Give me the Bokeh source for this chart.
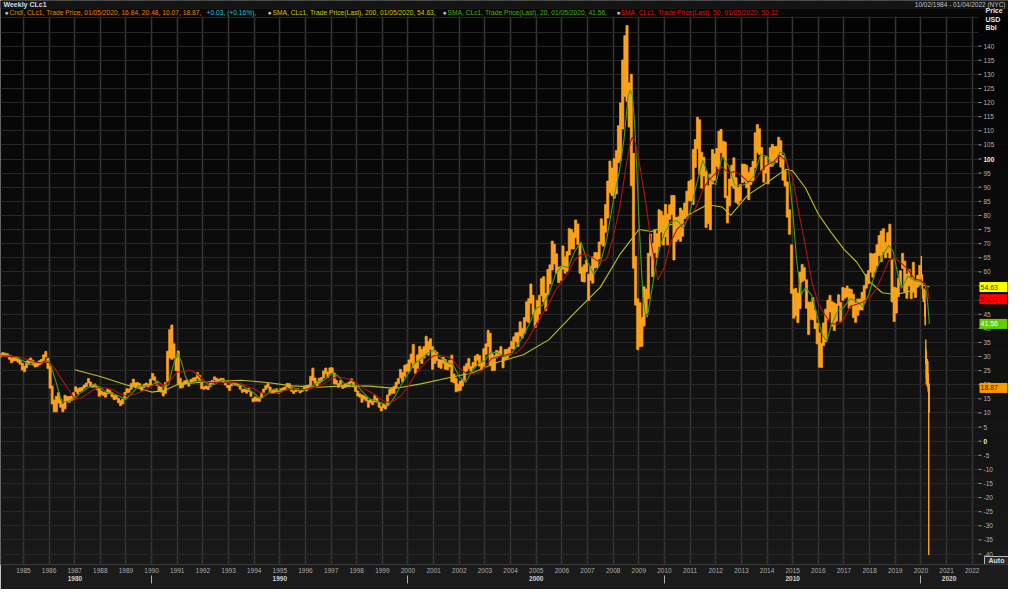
import numpy as np
import pandas as pd
from bokeh.plotting import figure
from bokeh.models import Range1d, FixedTicker, DatetimeTickFormatter, DatetimeAxis, BoxAnnotation, Grid
from bokeh.core.properties import value
from bokeh.embed import file_html
from bokeh.resources import INLINE

# ---------------- DATA ----------------
first_month = "1984-02-01"
# monthly low of the weekly candles, Feb 1984 .. Dec 2019
month_low = [
    29.8, 30.2, 30.0, 29.9, 29.0, 27.8, 28.4, 28.6, 28.0, 27.3, 25.2,          # 1984
    24.6, 26.0, 27.3, 28.0, 27.0, 26.3, 26.5, 27.0, 27.4, 28.6, 29.8, 25.8,    # 1985
    18.8, 13.2, 10.4, 10.4, 13.5, 12.0, 10.4, 11.5, 14.0, 13.8, 14.4, 14.9,    # 1986
    17.6, 16.8, 17.6, 18.0, 18.8, 19.3, 20.6, 19.2, 19.1, 19.3, 18.2, 15.9,    # 1987
    16.5, 16.2, 15.6, 16.8, 17.0, 15.7, 14.7, 14.9, 13.6, 12.6, 13.2, 15.0,    # 1988
    17.2, 17.3, 18.4, 19.6, 19.2, 19.3, 18.9, 17.9, 19.0, 19.6, 19.2, 19.9,    # 1989
    21.8, 21.4, 19.8, 17.6, 17.4, 16.0, 16.9, 21.2, 29.5, 29.0, 29.5, 25.0,    # 1990
    20.0, 18.8, 19.0, 20.2, 20.6, 19.5, 20.7, 21.0, 21.3, 22.3, 21.3, 18.6,    # 1991
    18.4, 18.6, 18.3, 19.3, 20.4, 21.8, 21.3, 21.0, 21.4, 20.9, 19.9, 19.0,    # 1992
    18.0, 19.6, 19.9, 19.8, 19.5, 18.4, 17.3, 17.6, 17.0, 17.6, 15.9, 14.0,    # 1993
    14.2, 14.2, 14.1, 15.3, 17.3, 18.3, 19.0, 17.4, 16.9, 17.2, 17.5, 16.9,    # 1994
    17.4, 18.0, 18.0, 19.2, 18.9, 17.7, 16.9, 17.5, 17.9, 17.1, 17.6, 18.4,    # 1995
    17.8, 18.5, 19.6, 21.5, 20.5, 19.5, 20.6, 21.2, 22.4, 23.9, 22.6, 24.0,    # 1996
    24.3, 20.3, 20.2, 19.1, 20.1, 18.7, 19.0, 19.3, 19.3, 20.6, 19.3, 17.6,    # 1997
    16.0, 15.6, 13.8, 14.9, 14.3, 12.0, 13.6, 12.9, 14.0, 13.8, 12.0, 10.7,    # 1998
    11.8, 11.4, 12.5, 16.3, 16.9, 17.0, 19.0, 20.4, 22.4, 21.0, 23.0, 24.8,    # 1999
    24.6, 27.8, 26.0, 24.0, 25.8, 28.5, 27.5, 29.5, 31.0, 30.5, 32.5, 25.5,    # 2000
    27.6, 28.6, 26.2, 25.8, 27.6, 25.5, 25.3, 26.3, 21.0, 20.7, 17.5, 17.8,    # 2001
    18.0, 19.5, 21.6, 24.8, 25.7, 24.8, 25.9, 26.6, 28.7, 26.6, 25.2, 26.5,    # 2002
    30.8, 33.6, 26.9, 25.0, 25.1, 29.5, 29.9, 30.3, 26.0, 28.8, 29.3, 30.6,    # 2003
    32.8, 32.6, 35.3, 33.6, 37.3, 36.5, 38.2, 42.5, 42.0, 48.9, 45.0, 40.3,    # 2004
    42.1, 45.0, 51.5, 49.3, 46.2, 51.9, 55.7, 60.7, 62.8, 59.6, 56.2, 57.0,    # 2005
    61.0, 59.5, 60.2, 66.0, 68.1, 68.1, 72.1, 69.7, 59.5, 56.6, 56.4, 60.0,    # 2006
    49.9, 57.0, 56.0, 61.4, 61.5, 64.6, 69.8, 69.1, 74.0, 79.1, 88.0, 87.1,    # 2007
    86.1, 87.6, 98.7, 99.5, 110.6, 122.2, 120.4, 111.3, 90.5, 61.3, 48.2, 32.4,  # 2008
    33.5, 33.6, 40.8, 45.2, 50.5, 65.6, 58.3, 66.8, 65.1, 68.9, 74.1, 69.5,    # 2009
    72.4, 69.5, 78.6, 80.3, 64.2, 70.8, 71.6, 70.8, 72.6, 78.9, 80.0, 85.2,    # 2010
    85.1, 83.9, 97.0, 103.6, 94.6, 89.6, 94.0, 75.7, 77.1, 74.9, 91.1, 92.5,   # 2011
    97.3, 96.4, 102.2, 100.7, 86.3, 77.3, 83.4, 90.4, 89.6, 84.6, 84.0, 85.2,  # 2012
    91.6, 92.0, 89.8, 85.6, 91.0, 92.3, 96.9, 102.2, 101.6, 96.0, 91.8, 95.0,  # 2013
    91.2, 97.4, 97.4, 99.2, 98.8, 101.7, 97.1, 92.5, 90.4, 79.4, 73.3, 52.4,   # 2014
    43.6, 44.4, 42.0, 47.0, 56.5, 57.0, 47.1, 37.8, 43.2, 43.0, 39.9, 34.5,    # 2015
    26.2, 26.1, 33.9, 35.2, 43.0, 45.8, 40.8, 39.2, 42.5, 48.1, 42.2, 49.9,    # 2016
    50.7, 51.2, 47.1, 48.2, 43.8, 42.1, 44.6, 46.5, 46.5, 49.1, 54.2, 55.8,    # 2017
    59.9, 58.1, 59.9, 62.1, 65.8, 63.6, 67.0, 65.0, 66.8, 64.9, 49.4, 42.4,    # 2018
    45.4, 51.2, 55.3, 61.2, 53.0, 50.6, 55.0, 50.5, 52.8, 50.9, 54.6, 55.6,    # 2019
]
# monthly high of the weekly candles, Feb 1984 .. Dec 2019
month_high = [
    31.0, 31.4, 31.2, 31.0, 30.4, 29.5, 30.0, 30.0, 29.6, 28.8, 27.6,          # 1984
    26.6, 28.4, 29.0, 29.5, 28.7, 27.9, 28.0, 28.5, 29.0, 30.6, 31.8, 29.4,    # 1985
    26.6, 19.6, 14.6, 15.9, 17.2, 14.8, 13.2, 16.3, 15.8, 15.8, 16.0, 17.2,    # 1986
    19.3, 18.6, 18.9, 19.1, 19.9, 20.6, 22.2, 21.0, 19.9, 20.3, 19.3, 18.8,    # 1987
    17.8, 17.3, 17.3, 18.6, 18.0, 17.2, 16.2, 16.2, 15.2, 14.4, 14.9, 17.3,    # 1988
    18.6, 18.5, 20.4, 22.0, 20.7, 20.8, 20.4, 19.2, 20.2, 20.6, 20.3, 22.0,    # 1989
    24.0, 22.8, 21.2, 19.5, 19.2, 17.8, 20.8, 31.9, 39.5, 41.2, 34.5, 29.5,    # 1990
    32.0, 22.3, 20.7, 21.4, 21.7, 20.9, 21.9, 22.4, 22.6, 24.3, 23.4, 20.8,    # 1991
    19.3, 19.6, 19.4, 20.9, 21.6, 22.8, 22.3, 21.9, 22.3, 22.2, 20.8, 19.8,    # 1992
    19.8, 20.6, 20.7, 20.6, 20.3, 19.8, 18.4, 18.5, 18.1, 18.7, 17.6, 15.2,    # 1993
    15.7, 15.3, 15.2, 17.3, 18.5, 19.7, 20.4, 19.2, 18.0, 18.2, 18.6, 17.6,    # 1994
    18.6, 18.9, 19.2, 20.5, 20.4, 19.2, 17.8, 18.4, 18.6, 17.8, 18.4, 19.6,    # 1995
    19.8, 19.9, 23.0, 25.9, 22.4, 21.1, 22.3, 22.6, 24.9, 25.9, 24.5, 26.0,    # 1996
    26.0, 24.2, 21.6, 20.4, 21.5, 19.8, 20.2, 20.5, 21.0, 22.1, 20.9, 19.2,    # 1997
    17.8, 16.8, 16.4, 16.1, 15.6, 14.5, 14.7, 14.2, 16.4, 15.2, 13.7, 12.2,    # 1998
    13.2, 12.7, 16.4, 18.3, 18.9, 19.4, 20.9, 22.2, 25.5, 24.3, 26.9, 27.3,    # 1999
    28.8, 30.9, 34.3, 27.5, 30.6, 33.6, 32.5, 33.5, 37.2, 35.3, 36.3, 33.5,    # 2000
    32.2, 31.6, 28.9, 28.8, 29.8, 29.0, 27.7, 28.6, 30.5, 23.8, 22.3, 20.3,    # 2001
    21.3, 21.8, 26.6, 27.5, 29.3, 26.4, 27.9, 30.2, 30.8, 30.3, 27.9, 32.8,    # 2002
    34.5, 39.3, 38.3, 31.0, 30.3, 32.2, 31.9, 33.5, 29.7, 32.5, 32.6, 33.3,    # 2003
    35.4, 37.0, 38.4, 38.5, 42.3, 40.0, 43.8, 49.4, 50.5, 55.7, 51.7, 46.4,    # 2004
    49.9, 51.7, 57.6, 58.3, 52.4, 60.9, 62.5, 70.9, 69.8, 66.4, 61.7, 61.9,    # 2005
    69.2, 65.3, 67.2, 75.4, 75.0, 73.9, 78.4, 77.0, 70.0, 61.7, 62.5, 64.2,    # 2006
    59.2, 62.0, 65.3, 66.9, 66.8, 70.6, 78.8, 76.3, 83.9, 92.2, 99.3, 96.8,    # 2007
    100.1, 103.0, 111.8, 119.9, 135.1, 143.7, 147.3, 127.0, 130.0, 102.0, 65.5, 50.5,  # 2008
    49.1, 43.9, 54.7, 53.9, 66.6, 73.4, 70.1, 75.0, 73.5, 82.0, 81.5, 80.0,    # 2009
    83.9, 80.5, 83.8, 87.1, 87.1, 79.3, 79.5, 82.6, 81.8, 84.4, 88.6, 92.1,    # 2010
    92.6, 103.4, 106.9, 114.8, 113.9, 102.4, 100.6, 95.7, 90.5, 94.6, 103.4, 101.8,  # 2011
    103.7, 109.8, 110.5, 106.3, 106.0, 86.9, 92.9, 97.8, 100.4, 93.4, 90.0, 91.0,    # 2012
    98.2, 98.2, 97.8, 95.3, 97.0, 99.2, 109.3, 112.2, 110.7, 104.1, 95.9, 100.8,     # 2013
    98.3, 104.0, 105.2, 104.4, 104.5, 107.7, 106.5, 101.2, 95.9, 91.9, 82.0, 69.6,   # 2014
    53.9, 54.2, 52.5, 59.9, 62.6, 61.5, 57.2, 49.3, 49.3, 50.9, 46.3, 41.8,    # 2015
    38.4, 34.7, 41.9, 46.8, 50.0, 51.7, 49.4, 49.0, 48.6, 51.9, 49.2, 54.5,    # 2016
    54.1, 55.0, 54.0, 53.8, 52.0, 49.0, 50.4, 50.4, 52.8, 55.2, 59.1, 60.5,    # 2017
    66.6, 66.3, 66.6, 69.6, 72.9, 74.5, 75.3, 70.5, 73.9, 76.9, 64.5, 54.6,    # 2018
    54.3, 57.8, 60.4, 66.6, 63.8, 59.2, 60.9, 58.0, 63.4, 56.9, 58.8, 62.3,    # 2019
]

# weekly candles, 2020
week_start = ["2020-01-06", "2020-01-13", "2020-01-20", "2020-01-27", "2020-02-03", "2020-02-10",
              "2020-02-17", "2020-02-24", "2020-03-02", "2020-03-09", "2020-03-16", "2020-03-23",
              "2020-03-30", "2020-04-06", "2020-04-13", "2020-04-20", "2020-04-27"]
week_open = [63.3, 59.0, 58.5, 53.9, 51.5, 50.3, 52.1, 53.4, 44.8, 32.9, 31.7, 22.4, 21.5, 28.3, 22.8, 18.3, 16.84]
week_high = [65.65, 59.3, 58.9, 54.3, 52.0, 52.2, 54.0, 53.5, 48.7, 36.0, 32.0, 25.2, 29.1, 28.4, 23.9, 18.3, 20.48]
week_low = [58.7, 57.6, 53.9, 50.6, 49.3, 49.4, 51.5, 44.0, 41.0, 27.3, 20.1, 20.5, 19.3, 22.6, 17.3, -40.32, 10.07]
week_close = [59.04, 58.54, 54.19, 51.56, 50.32, 52.05, 53.38, 44.76, 41.28, 31.73, 22.43, 21.51, 28.34, 22.76, 18.27, 16.94, 18.87]

# simple moving averages (date, value)
sma20_points = [
    ("1984-02-10", 30.2), ("1984-04-01", 30.4), ("1984-07-01", 30.4), ("1984-10-01", 29.5),
    ("1985-01-01", 28.4), ("1985-04-01", 27.1), ("1985-07-01", 27.9), ("1985-10-01", 27.7),
    ("1986-01-01", 28.7), ("1986-04-01", 21.8), ("1986-07-01", 13.9), ("1986-10-01", 14.1),
    ("1987-01-01", 15.2), ("1987-04-01", 17.2), ("1987-07-01", 18.8), ("1987-10-01", 20.1),
    ("1988-01-01", 19.1), ("1988-04-01", 17.2), ("1988-07-01", 16.9), ("1988-10-01", 15.9),
    ("1989-01-01", 14.8), ("1989-04-01", 17.1), ("1989-07-01", 19.7), ("1989-10-01", 19.5),
    ("1990-01-01", 19.8), ("1990-04-01", 21.3), ("1990-07-01", 19.2), ("1990-09-01", 19.9),
    ("1990-11-01", 26.5), ("1991-01-01", 31.3), ("1991-03-01", 28.2), ("1991-05-01", 22.7),
    ("1991-07-01", 20.5), ("1991-10-01", 21.3), ("1992-01-01", 21.8), ("1992-04-01", 19.7),
    ("1992-07-01", 20.3), ("1992-10-01", 21.7), ("1993-01-01", 20.9), ("1993-04-01", 19.8),
    ("1993-07-01", 19.9), ("1993-10-01", 18.5), ("1994-01-01", 17.0), ("1994-04-01", 15.1),
    ("1994-07-01", 16.6), ("1994-10-01", 18.5), ("1995-01-01", 17.8), ("1995-04-01", 18.1),
    ("1995-07-01", 19.0), ("1995-10-01", 18.3), ("1996-01-01", 18.1), ("1996-04-01", 19.3),
    ("1996-07-01", 21.1), ("1996-10-01", 21.7), ("1997-01-01", 23.9), ("1997-04-01", 23.4),
    ("1997-07-01", 20.6), ("1997-10-01", 19.9), ("1998-01-01", 19.9), ("1998-04-01", 17.3),
    ("1998-07-01", 15.0), ("1998-10-01", 14.3), ("1999-01-01", 13.4), ("1999-04-01", 12.7),
    ("1999-07-01", 15.9), ("1999-10-01", 20.2), ("2000-01-01", 23.8), ("2000-04-01", 27.5),
    ("2000-07-01", 29.1), ("2000-10-01", 31.1), ("2001-01-01", 32.2), ("2001-04-01", 29.9),
    ("2001-07-01", 28.1), ("2001-10-01", 27.2), ("2002-01-01", 22.9), ("2002-04-01", 20.8),
    ("2002-07-01", 24.8), ("2002-10-01", 27.5), ("2003-01-01", 28.5), ("2003-04-01", 31.6),
    ("2003-07-01", 31.3), ("2003-10-01", 29.9), ("2004-01-01", 30.7), ("2004-04-01", 33.8),
    ("2004-07-01", 37.3), ("2004-10-01", 42.0), ("2005-01-01", 47.1), ("2005-04-01", 48.2),
    ("2005-07-01", 52.3), ("2005-10-01", 59.1), ("2006-01-01", 62.1), ("2006-04-01", 61.5),
    ("2006-07-01", 67.2), ("2006-10-01", 70.6), ("2007-01-01", 63.4), ("2007-04-01", 59.1),
    ("2007-07-01", 62.9), ("2007-10-01", 71.5), ("2008-01-01", 84.9), ("2008-04-01", 96.0),
    ("2008-06-01", 106.4), ("2008-08-01", 122.2), ("2008-09-01", 124.4), ("2008-10-01", 122.7),
    ("2008-11-01", 112.9), ("2008-12-01", 97.6), ("2009-01-01", 79.2), ("2009-02-01", 64.2),
    ("2009-03-01", 51.2), ("2009-04-01", 45.4), ("2009-05-01", 43.9), ("2009-07-01", 53.0),
    ("2009-10-01", 66.7), ("2010-01-01", 73.7), ("2010-04-01", 77.7), ("2010-07-01", 78.2),
    ("2010-10-01", 75.4), ("2011-01-01", 81.4), ("2011-04-01", 90.8), ("2011-07-01", 99.6),
    ("2011-10-01", 93.3), ("2012-01-01", 90.8), ("2012-04-01", 100.9), ("2012-07-01", 97.7),
    ("2012-10-01", 90.7), ("2013-01-01", 90.5), ("2013-04-01", 91.5), ("2013-07-01", 94.1),
    ("2013-10-01", 101.6), ("2014-01-01", 101.0), ("2014-04-01", 97.5), ("2014-07-01", 102.3),
    ("2014-09-01", 102.0), ("2014-11-01", 96.7), ("2015-01-01", 81.8), ("2015-03-01", 63.5),
    ("2015-05-01", 51.9), ("2015-07-01", 54.4), ("2015-10-01", 51.7), ("2016-01-01", 42.8),
    ("2016-03-01", 37.6), ("2016-05-01", 35.5), ("2016-07-01", 40.8), ("2016-10-01", 46.0),
    ("2017-01-01", 47.5), ("2017-04-01", 50.6), ("2017-07-01", 49.5), ("2017-10-01", 47.6),
    ("2018-01-01", 52.8), ("2018-04-01", 60.6), ("2018-07-01", 65.8), ("2018-10-01", 69.4),
    ("2018-12-01", 67.4), ("2019-02-01", 59.8), ("2019-04-01", 54.2), ("2019-07-01", 58.5),
    ("2019-10-01", 56.9), ("2020-01-01", 56.5), ("2020-03-01", 55.8), ("2020-04-01", 50.8),
    ("2020-05-01", 41.56),
]
sma50_points = [
    ("1984-02-10", 30.3), ("1984-04-01", 30.1), ("1984-07-01", 30.0), ("1984-10-01", 29.9),
    ("1985-01-01", 29.4), ("1985-04-01", 28.6), ("1985-07-01", 28.0), ("1985-10-01", 27.7),
    ("1986-01-01", 28.0), ("1986-04-01", 25.5), ("1986-07-01", 21.9), ("1986-10-01", 18.5),
    ("1987-01-01", 15.0), ("1987-04-01", 15.3), ("1987-07-01", 16.7), ("1987-10-01", 18.3),
    ("1988-01-01", 19.2), ("1988-04-01", 18.8), ("1988-07-01", 18.2), ("1988-10-01", 16.9),
    ("1989-01-01", 16.0), ("1989-04-01", 16.4), ("1989-07-01", 17.2), ("1989-10-01", 18.2),
    ("1990-01-01", 19.6), ("1990-04-01", 20.4), ("1990-07-01", 19.8), ("1990-10-01", 21.6),
    ("1991-01-01", 24.5), ("1991-04-01", 24.5), ("1991-07-01", 25.2), ("1991-10-01", 24.0),
    ("1992-01-01", 21.5), ("1992-04-01", 20.8), ("1992-07-01", 20.9), ("1992-10-01", 20.9),
    ("1993-01-01", 20.6), ("1993-04-01", 20.8), ("1993-07-01", 20.4), ("1993-10-01", 19.5),
    ("1994-01-01", 18.5), ("1994-04-01", 17.2), ("1994-07-01", 16.7), ("1994-10-01", 16.9),
    ("1995-01-01", 17.2), ("1995-04-01", 18.1), ("1995-07-01", 18.5), ("1995-10-01", 18.3),
    ("1996-01-01", 18.4), ("1996-04-01", 18.8), ("1996-07-01", 19.4), ("1996-10-01", 20.5),
    ("1997-01-01", 22.1), ("1997-04-01", 22.9), ("1997-07-01", 22.4), ("1997-10-01", 21.8),
    ("1998-01-01", 20.6), ("1998-04-01", 18.9), ("1998-07-01", 17.6), ("1998-10-01", 16.2),
    ("1999-01-01", 14.4), ("1999-04-01", 13.7), ("1999-07-01", 14.5), ("1999-10-01", 16.3),
    ("2000-01-01", 19.3), ("2000-04-01", 23.2), ("2000-07-01", 26.0), ("2000-10-01", 28.5),
    ("2001-01-01", 30.3), ("2001-04-01", 30.3), ("2001-07-01", 30.1), ("2001-10-01", 28.8),
    ("2002-01-01", 25.9), ("2002-04-01", 24.1), ("2002-07-01", 23.7), ("2002-10-01", 24.1),
    ("2003-01-01", 26.1), ("2003-04-01", 29.2), ("2003-07-01", 29.9), ("2003-10-01", 30.4),
    ("2004-01-01", 31.1), ("2004-04-01", 31.4), ("2004-07-01", 33.7), ("2004-10-01", 37.2),
    ("2005-01-01", 41.4), ("2005-04-01", 45.1), ("2005-07-01", 48.7), ("2005-10-01", 53.5),
    ("2006-01-01", 56.5), ("2006-04-01", 59.9), ("2006-07-01", 64.2), ("2006-10-01", 66.1),
    ("2007-01-01", 66.1), ("2007-04-01", 64.7), ("2007-07-01", 63.4), ("2007-10-01", 64.6),
    ("2008-01-01", 72.3), ("2008-04-01", 82.3), ("2008-07-01", 97.0), ("2008-09-01", 105.7),
    ("2008-10-01", 107.7), ("2008-11-01", 106.9), ("2009-01-01", 99.6), ("2009-04-01", 85.8),
    ("2009-07-01", 69.7), ("2009-10-01", 57.2), ("2010-01-01", 61.7), ("2010-04-01", 70.6),
    ("2010-07-01", 75.2), ("2010-10-01", 77.1), ("2011-01-01", 79.4), ("2011-04-01", 83.1),
    ("2011-07-01", 89.2), ("2011-10-01", 92.7), ("2012-01-01", 94.9), ("2012-04-01", 97.2),
    ("2012-07-01", 95.0), ("2012-10-01", 95.6), ("2013-01-01", 94.1), ("2013-04-01", 92.0),
    ("2013-07-01", 92.1), ("2013-10-01", 95.6), ("2014-01-01", 97.9), ("2014-04-01", 99.0),
    ("2014-07-01", 101.3), ("2014-10-01", 99.3), ("2015-01-01", 93.3), ("2015-04-01", 80.7),
    ("2015-07-01", 69.3), ("2015-10-01", 56.5), ("2016-01-01", 48.7), ("2016-04-01", 44.9),
    ("2016-07-01", 41.7), ("2016-10-01", 41.4), ("2017-01-01", 43.2), ("2017-04-01", 47.8),
    ("2017-07-01", 48.5), ("2017-10-01", 49.3), ("2018-01-01", 50.9), ("2018-04-01", 53.7),
    ("2018-07-01", 58.6), ("2018-10-01", 64.0), ("2019-01-01", 65.0), ("2019-04-01", 63.0),
    ("2019-07-01", 60.9), ("2019-10-01", 57.5), ("2020-01-01", 57.0), ("2020-04-01", 54.7),
    ("2020-05-01", 50.32),
]
sma200_points = [
    ("1987-01-02", 25.3), ("1988-01-01", 22.9), ("1989-01-01", 20.0), ("1990-01-01", 17.4),
    ("1990-07-01", 18.0), ("1991-01-01", 20.0), ("1992-01-01", 21.0), ("1993-07-01", 21.6),
    ("1994-07-01", 20.8), ("1995-07-01", 19.6), ("1996-07-01", 19.1), ("1997-07-01", 19.6),
    ("1998-07-01", 19.5), ("1999-07-01", 18.7), ("2000-07-01", 20.3), ("2001-07-01", 22.3),
    ("2002-07-01", 24.2), ("2003-07-01", 28.0), ("2004-07-01", 30.6), ("2005-07-01", 36.0),
    ("2006-07-01", 45.5), ("2007-07-01", 54.5), ("2008-04-01", 66.0), ("2009-01-01", 75.0),
    ("2009-07-01", 74.3), ("2010-01-01", 76.0), ("2010-07-01", 77.5), ("2011-01-01", 80.5),
    ("2011-09-01", 83.8), ("2012-04-01", 83.0), ("2012-08-01", 80.0), ("2013-04-01", 87.2),
    ("2014-01-01", 91.7), ("2014-10-01", 96.4), ("2015-01-01", 95.8), ("2015-07-01", 89.8),
    ("2016-01-01", 80.5), ("2016-07-01", 74.0), ("2017-01-01", 68.0), ("2017-07-01", 63.5),
    ("2018-01-01", 56.5), ("2018-07-01", 52.6), ("2019-01-01", 52.0), ("2019-07-01", 52.9),
    ("2020-01-01", 55.5), ("2020-05-01", 54.63),
]

last_close = 18.87
last_sma200 = 54.63
last_sma50 = 50.32
last_sma20 = 41.56

year_ticks = list(range(1985, 2023))
price_ticks = list(range(-40, 141, 5))
bold_price_ticks = [0, 100]
grid_ticks = list(range(-40, 151, 5))
decade_names = ["1980", "1990", "2000", "2010", "2020"]
decade_centers = ["1987-01-05", "1995-01-01", "2005-01-01", "2015-01-01", "2021-02-05"]
decade_bounds = ["1990-01-01", "2000-01-01", "2010-01-01", "2020-01-01"]

# ---------------- LAYOUT / STYLE ----------------
FONT = "Liberation Sans"
ORANGE = "#ffa31a"
C200, C20, C50 = "#bdbd22", "#44a014", "#b01212"

W, H = 1008, 589
BOTTOM = 25              # room for the two date axes
HEAD = 16                # header band (inside the frame, above the price area)
DATA_W = 978             # width of the price area; the rest is the price-label column
FRAME_H = H - BOTTOM


def ms(d):
    return pd.Timestamp(d).value / 1e6


X0, X1 = ms("1984-02-10"), ms("2022-04-01")
Y0, Y1 = -43.7, 150.5
MSPP = (X1 - X0) / DATA_W
UPP = (Y1 - Y0) / (FRAME_H - HEAD)
XE = X0 + W * MSPP
YE = Y1 + HEAD * UPP


def px(n):      # x position n pixels right of the frame's left edge
    return X0 + n * MSPP


def py(n):      # y position n pixels above the top of the price area
    return Y1 + n * UPP


p = figure(width=W, height=H, x_axis_type="datetime", y_axis_location=None,
           x_range=Range1d(X0, XE), y_range=Range1d(Y0, YE),
           output_backend="svg", toolbar_location=None,
           min_border_left=0, min_border_right=0, min_border_top=0, min_border_bottom=BOTTOM,
           background_fill_color="#0a0a0a", border_fill_color="#1b1b1b",
           outline_line_color=None)

# background gradient (dark at top, lighter at bottom)
nb = 30
edges = np.linspace(Y0, Y1, nb + 1)
band_cols = []
for i in range(nb):
    t = (i + 0.5) / nb
    g = int(round(0x19 * (1 - t) + 0x03 * t))
    band_cols.append("#%02x%02x%02x" % (g, g, g))
for i in range(nb):
    p.add_layout(BoxAnnotation(bottom=edges[i], top=edges[i + 1], fill_color=band_cols[i],
                               fill_alpha=1.0, line_color=None, level="image"))

# grids
xt = FixedTicker(ticks=[ms(f"{y}-01-01") for y in year_ticks])
p.xgrid.ticker = xt
p.xgrid.grid_line_color = "#333333"
p.xgrid.grid_line_width = 1.6
p.add_layout(Grid(dimension=1, ticker=FixedTicker(ticks=grid_ticks),
                  grid_line_color="#272727", grid_line_width=1))

# covers: price-label column and header band (drawn over the grid lines)
for i in range(nb):
    p.add_layout(BoxAnnotation(left=X1, bottom=edges[i], top=edges[i + 1], fill_color=band_cols[i],
                               fill_alpha=1.0, line_color=None, level="underlay"))
p.add_layout(BoxAnnotation(bottom=Y1, fill_color="#080808", fill_alpha=1.0, line_color=None,
                           level="underlay"))
p.add_layout(BoxAnnotation(bottom=py(8), fill_color="#141414", fill_alpha=1.0, line_color="#2e2e2e",
                           line_width=1, level="underlay"))

# x axis (years)
xax = p.xaxis[0]
xax.ticker = xt
xax.formatter = DatetimeTickFormatter(years="%Y", months="%Y", days="%Y", hours="%Y",
                                      minutes="%Y", seconds="%Y", milliseconds="%Y")
xax.major_tick_out = 0
xax.major_tick_in = 0
xax.minor_tick_line_color = None
xax.major_label_standoff = 3
xax.major_label_text_font = FONT
xax.major_label_text_font_size = "6.5px"
xax.major_label_text_color = "#acacac"
xax.axis_line_color = "#3a3a3a"

# decade axis: names at decade centres, separators as minor ticks
ax2 = DatetimeAxis(ticker=FixedTicker(ticks=[int(ms(d)) for d in decade_centers],
                                      minor_ticks=[int(ms(d)) for d in decade_bounds]),
                   major_label_overrides={int(ms(d)): n for d, n in zip(decade_centers, decade_names)},
                   major_tick_line_color=None, major_tick_out=0, major_tick_in=0,
                   minor_tick_out=8, minor_tick_in=0, minor_tick_line_color="#b0b0b0",
                   axis_line_color=None, major_label_standoff=-8,
                   major_label_text_font=FONT, major_label_text_font_size="6.5px",
                   major_label_text_font_style="bold", major_label_text_color="#d2d2d2")
p.add_layout(ax2, "below")

# ---------------- MARKS ----------------
months = pd.date_range(first_month, periods=len(month_low), freq="MS")
month_end = months + pd.offsets.MonthBegin(1)
p.quad(left=months, right=month_end, bottom=month_low, top=month_high,
       fill_color=ORANGE, line_color=ORANGE, line_width=0.7)

wk = pd.to_datetime(week_start) + pd.Timedelta(days=2)
p.segment(x0=wk, y0=week_low, x1=wk, y1=week_high, line_color=ORANGE, line_width=1.4)
p.vbar(x=wk, width=4 * 86400000, top=week_open, bottom=week_close,
       fill_color=ORANGE, line_color=ORANGE, line_width=0.8)

for pts, col in [(sma200_points, C200), (sma20_points, C20), (sma50_points, C50)]:
    xs = pd.to_datetime([d for d, _ in pts])
    ys = [v for _, v in pts]
    p.line(xs, ys, line_color=col, line_width=1.1)

# ---------------- PRICE SCALE (right column) ----------------
# Auto button (drawn first so the -40 label stays on top)
AUTO_Y = Y0 + 4 * UPP
p.rect(x=[px(DATA_W + 18)], y=[AUTO_Y], width=24, height=8,
       width_units="screen", height_units="screen", fill_color="#2a2a2a", line_color="#bbbbbb",
       line_width=1)
p.text(x=[px(DATA_W + 18)], y=[AUTO_Y], text=["Auto"],
       text_font=value(FONT), text_font_size=value("7px"), text_color="#dddddd",
       text_font_style="bold", text_align="center", text_baseline="middle")

p.segment(x0=[X1] * len(price_ticks), x1=[px(DATA_W + 3)] * len(price_ticks),
          y0=price_ticks, y1=price_ticks, line_color="#9a9a9a", line_width=1)
reg = [t for t in price_ticks if t not in bold_price_ticks]
p.text(x=[px(DATA_W + 5)] * len(reg), y=reg, text=[str(t) for t in reg],
       text_font=value(FONT), text_font_size=value("6.5px"), text_color="#b0b0b0",
       text_align="left", text_baseline="middle")
p.text(x=[px(DATA_W + 5)] * len(bold_price_ticks), y=bold_price_ticks,
       text=[str(t) for t in bold_price_ticks],
       text_font=value(FONT), text_font_size=value("6.5px"), text_color="#eeeeee",
       text_font_style="bold", text_align="left", text_baseline="middle")

# unit labels
p.text(x=[px(DATA_W + 7)] * 3, y=[py(6), py(-3), py(-11)], text=["Price", "USD", "Bbl"],
       text_font=value(FONT), text_font_size=value("7px"), text_color="#e4e4e4",
       text_font_style="bold", text_align="left", text_baseline="middle")

# last value boxes
box_vals = [last_sma200, last_sma50, last_sma20, last_close]
box_bg = ["#ffff00", "#ff0000", "#66cc00", "#ff9900"]
box_fg = ["#3a3a00", "#5a0000", "#f0fff0", "#3a1e00"]
p.rect(x=[px(DATA_W + 15)] * 4, y=box_vals, width=28, height=10,
       width_units="screen", height_units="screen", fill_color=box_bg, line_color=None)
p.text(x=[px(DATA_W + 2)] * 4, y=box_vals, text=[f"{v:.2f}" for v in box_vals],
       text_font=value(FONT), text_font_size=value("7px"), text_color=box_fg,
       text_align="left", text_baseline="middle")

# ---------------- HEADER ----------------
p.text(x=[px(3)], y=[py(12)], text=["Weekly CLc1"], text_font=value(FONT),
       text_font_size=value("7px"), text_font_style="bold", text_color="#dddddd",
       text_align="left", text_baseline="middle")
p.text(x=[px(1005)], y=[py(12)], text=["10/02/1984 - 01/04/2022 (NYC)"], text_font=value(FONT),
       text_font_size=value("6.5px"), text_color="#c4c4c4",
       text_align="right", text_baseline="middle")

ICON = "#b4c2d0"
legend_x = [4, 9, 206, 267, 272, 442, 447, 616, 620]
legend_text = ["\u25cf", "Cndl, CLc1, Trade Price, 01/05/2020, 16.84, 20.48, 10.07, 18.87,",
               "+0.03, (+0.16%),", "\u25cf", "SMA, CLc1, Trade Price(Last),  200, 01/05/2020, 54.63,",
               "\u25cf", "SMA, CLc1, Trade Price(Last),  20, 01/05/2020, 41.56,",
               "\u25cf", "SMA, CLc1, Trade Price(Last),  50, 01/05/2020, 50.32"]
legend_col = [ICON, "#e8820e", "#28c4dc", ICON, "#cccc00", ICON, "#4aac10", ICON, "#dd1414"]
p.text(x=[px(v) for v in legend_x], y=[py(4)] * len(legend_x), text=legend_text,
       text_font=value(FONT), text_font_size=value("6.7px"), text_color=legend_col,
       text_align="left", text_baseline="middle")

open("out.html", "w").write(file_html(p, INLINE))
